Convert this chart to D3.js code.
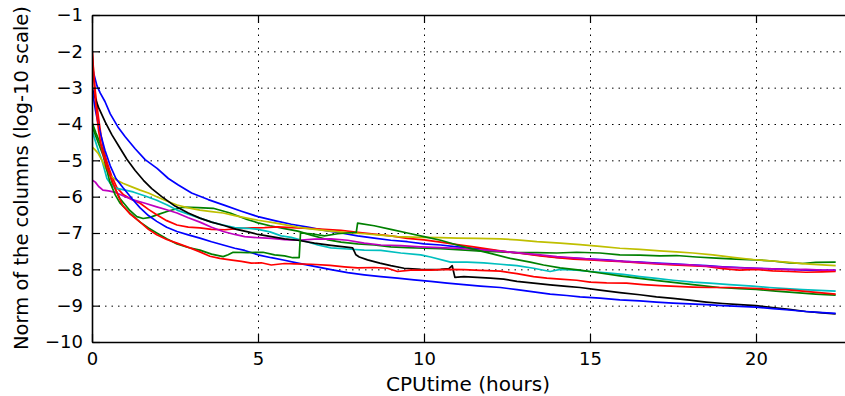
<!DOCTYPE html>
<html><head><meta charset="utf-8">
<script src="https://cdn.jsdelivr.net/npm/d3@7/dist/d3.min.js"></script>
<style>body{margin:0;background:#fff}svg{display:block}text{font-family:"DejaVu Sans",sans-serif}</style>
</head><body><svg id="c" width="845" height="396"></svg>
<script>
const xTicks = [0, 5, 10, 15, 20];
const yTicks = [-1, -2, -3, -4, -5, -6, -7, -8, -9, -10];
const xLabel = "CPUtime (hours)";
const yLabel = "Norm of the columns (log-10 scale)";

const blueUpper = [[0,-2.4],[0.05,-2.6],[0.15,-2.95],[0.25,-3.15],[0.39,-3.38],[0.55,-3.72],[0.78,-4.08],[1.0,-4.35],[1.3,-4.68],[1.6,-4.98],[1.96,-5.22],[2.3,-5.5],[2.6,-5.68],[3.0,-5.9],[3.5,-6.08],[4.0,-6.24],[4.5,-6.4],[5.0,-6.55],[5.5,-6.66],[6.0,-6.76],[6.5,-6.84],[7.0,-6.93],[7.5,-7.0],[8.0,-7.08],[8.5,-7.14],[9.0,-7.2],[9.5,-7.24],[10,-7.3],[10.5,-7.33],[11,-7.38],[11.5,-7.42],[12,-7.47],[12.5,-7.52],[13,-7.56],[13.5,-7.62],[14,-7.67],[14.5,-7.69],[15,-7.72],[15.5,-7.74],[16,-7.78],[16.5,-7.8],[17,-7.83],[17.5,-7.85],[18,-7.88],[18.5,-7.9],[19,-7.93],[19.5,-7.95],[20,-7.97],[20.5,-7.99],[21,-8.0],[21.5,-8.02],[22,-8.03],[22.4,-8.03]];
const greenA = [[0,-3.95],[0.12,-4.25],[0.33,-4.72],[0.48,-5.18],[0.6,-5.6],[0.84,-6.05],[1.14,-6.38],[1.35,-6.55],[1.54,-6.6],[1.75,-6.57],[1.95,-6.5],[2.35,-6.38],[2.75,-6.29],[3.2,-6.3],[3.65,-6.32],[4.16,-6.45],[4.67,-6.63],[5.0,-6.72],[5.36,-6.8],[5.8,-6.88],[6.2,-6.95],[6.6,-7.06],[7.08,-7.18],[7.5,-7.25],[8,-7.3],[8.5,-7.33],[9,-7.38],[9.5,-7.4],[10,-7.42],[10.5,-7.43],[11,-7.46],[11.6,-7.49],[12.3,-7.52],[12.8,-7.54],[13.4,-7.54],[14,-7.55],[14.6,-7.53],[15.3,-7.55],[15.9,-7.6],[16.5,-7.61],[17.1,-7.63],[17.6,-7.62],[18.2,-7.66],[18.8,-7.69],[19.4,-7.72],[20,-7.74],[20.5,-7.77],[21,-7.82],[21.4,-7.84],[21.8,-7.81],[22.4,-7.8]];
const redUpper = [[0,-1.9],[0.03,-2.3],[0.06,-2.7],[0.1,-3.1],[0.15,-3.5],[0.2,-3.85],[0.27,-4.3],[0.35,-4.7],[0.45,-5.05],[0.6,-5.45],[0.75,-5.75],[0.95,-5.95],[1.2,-6.08],[1.45,-6.18],[1.7,-6.35],[1.95,-6.5],[2.25,-6.66],[2.56,-6.78],[2.9,-6.84],[3.25,-6.86],[3.6,-6.9],[4.0,-6.91],[4.4,-6.88],[4.8,-6.86],[5.2,-6.85],[5.6,-6.83],[6.0,-6.85],[6.5,-6.87],[7.0,-6.9],[7.5,-6.93],[8.0,-6.98],[8.5,-7.03],[9.0,-7.08],[9.5,-7.15],[10,-7.19],[10.5,-7.25],[11,-7.32],[11.5,-7.38],[12,-7.45],[12.5,-7.52],[13,-7.57],[13.5,-7.63],[14,-7.68],[14.5,-7.72],[15,-7.74],[15.5,-7.77],[16,-7.79],[16.5,-7.82],[17,-7.85],[17.5,-7.88],[18,-7.9],[18.5,-7.92],[19,-7.98],[19.5,-8.02],[20,-8.0],[20.5,-8.04],[21,-8.06],[21.5,-8.08],[22,-8.07],[22.4,-8.06]];
const cyan = [[0,-4.17],[0.09,-4.44],[0.2,-4.75],[0.3,-5.0],[0.45,-5.5],[0.6,-5.7],[0.75,-5.77],[1.0,-5.82],[1.24,-5.87],[1.6,-5.98],[1.95,-6.1],[2.25,-6.22],[2.56,-6.37],[2.9,-6.48],[3.25,-6.59],[3.6,-6.7],[3.95,-6.78],[4.3,-6.85],[4.67,-6.87],[5.0,-6.9],[5.36,-6.97],[5.7,-7.08],[6.0,-7.12],[6.4,-7.22],[6.8,-7.33],[7.2,-7.41],[7.7,-7.44],[8.2,-7.47],[8.7,-7.48],[9.3,-7.55],[9.9,-7.6],[10.2,-7.66],[10.8,-7.8],[11.3,-7.8],[11.8,-7.82],[12.3,-7.86],[12.8,-7.9],[13.3,-7.97],[13.8,-8.06],[14.1,-8.0],[14.6,-8.02],[15,-8.06],[15.5,-8.1],[16,-8.14],[16.5,-8.2],[17,-8.25],[17.5,-8.3],[18.1,-8.35],[18.6,-8.38],[19.2,-8.42],[19.9,-8.46],[20.4,-8.5],[20.9,-8.53],[21.4,-8.56],[21.9,-8.58],[22.4,-8.6]];
const magenta = [[0,-5.54],[0.1,-5.6],[0.2,-5.72],[0.33,-5.82],[0.5,-5.84],[0.7,-5.88],[0.95,-5.98],[1.24,-6.09],[1.6,-6.18],[1.95,-6.28],[2.25,-6.36],[2.56,-6.45],[2.9,-6.58],[3.25,-6.7],[3.6,-6.84],[3.95,-6.96],[4.3,-7.04],[4.6,-7.1],[5.0,-7.13],[5.4,-7.15],[5.8,-7.18],[6.2,-7.2],[6.7,-7.17],[7.2,-7.16],[7.7,-7.2],[8.2,-7.28],[8.7,-7.33],[9.3,-7.35],[9.9,-7.38],[10.5,-7.4],[11,-7.42],[11.5,-7.45],[12.3,-7.5],[13,-7.56],[13.5,-7.6],[14,-7.65],[14.7,-7.7],[15.3,-7.74],[16,-7.78],[16.5,-7.81],[17,-7.84],[17.5,-7.86],[18,-7.88],[18.5,-7.91],[19,-7.94],[19.5,-7.96],[20,-7.97],[20.5,-7.99],[21,-8.01],[21.5,-8.0],[22,-8.02],[22.4,-8.02]];
const yellow = [[0,-4.63],[0.08,-4.7],[0.18,-4.8],[0.3,-5.0],[0.39,-5.18],[0.54,-5.42],[0.75,-5.55],[0.93,-5.63],[1.2,-5.73],[1.45,-5.82],[1.7,-5.9],[1.95,-6.0],[2.25,-6.12],[2.56,-6.23],[2.9,-6.31],[3.25,-6.37],[3.6,-6.41],[3.95,-6.45],[4.3,-6.52],[4.67,-6.59],[5.0,-6.65],[5.5,-6.72],[6.2,-6.84],[6.7,-6.9],[7.2,-6.95],[7.7,-6.99],[8.2,-7.02],[8.7,-7.06],[9.2,-7.1],[9.9,-7.12],[10.5,-7.13],[11,-7.14],[11.6,-7.15],[12.3,-7.16],[12.8,-7.19],[13.4,-7.24],[14.1,-7.28],[14.7,-7.32],[15.3,-7.37],[15.9,-7.42],[16.5,-7.45],[17.1,-7.49],[17.6,-7.52],[18.1,-7.55],[18.7,-7.6],[19.3,-7.67],[19.9,-7.73],[20.5,-7.77],[21,-7.81],[21.5,-7.85],[22,-7.88],[22.4,-7.9]];
const black = [[0,-3.0],[0.1,-3.3],[0.2,-3.55],[0.4,-3.95],[0.6,-4.3],[0.8,-4.6],[1.05,-4.97],[1.3,-5.28],[1.55,-5.55],[1.8,-5.78],[2.1,-6.0],[2.5,-6.26],[2.9,-6.45],[3.25,-6.59],[3.6,-6.7],[4.0,-6.8],[4.35,-6.9],[4.7,-6.97],[5.0,-7.04],[5.4,-7.1],[5.8,-7.16],[6.2,-7.2],[6.7,-7.28],[7.2,-7.34],[7.6,-7.38],[7.85,-7.41],[7.95,-7.6],[8.05,-7.66],[8.3,-7.74],[8.67,-7.83],[9.0,-7.9],[9.4,-7.97],[9.9,-8.0],[10.2,-8.01],[10.5,-8.0],[10.75,-7.98],[10.85,-7.9],[10.93,-8.22],[11.2,-8.2],[11.6,-8.22],[12,-8.24],[12.4,-8.27],[12.8,-8.33],[13.3,-8.38],[13.8,-8.43],[14.3,-8.47],[14.7,-8.5],[15.3,-8.57],[15.9,-8.64],[16.5,-8.7],[17,-8.76],[17.5,-8.8],[18,-8.85],[18.5,-8.9],[19,-8.94],[19.5,-8.97],[20,-9.0],[20.5,-9.05],[21,-9.1],[21.5,-9.16],[22,-9.2],[22.4,-9.23]];
const blueLower = [[0,-2.9],[0.03,-3.2],[0.1,-3.6],[0.18,-3.97],[0.28,-4.35],[0.39,-4.72],[0.55,-5.15],[0.72,-5.5],[0.93,-5.75],[1.2,-6.05],[1.45,-6.31],[1.7,-6.52],[1.95,-6.68],[2.25,-6.84],[2.56,-6.96],[2.9,-7.05],[3.25,-7.14],[3.6,-7.24],[3.95,-7.33],[4.3,-7.42],[4.6,-7.48],[5.0,-7.6],[5.4,-7.68],[5.8,-7.75],[6.2,-7.83],[6.7,-7.92],[7.2,-8.01],[7.7,-8.09],[8.2,-8.15],[8.7,-8.2],[9.2,-8.24],[9.7,-8.29],[10.2,-8.33],[10.7,-8.38],[11.2,-8.42],[11.7,-8.46],[12.3,-8.5],[12.8,-8.56],[13.3,-8.62],[13.8,-8.68],[14.3,-8.72],[14.7,-8.76],[15.3,-8.79],[15.9,-8.84],[16.5,-8.87],[17,-8.9],[17.5,-8.93],[18,-8.95],[18.5,-8.97],[19,-9.0],[19.5,-9.02],[20,-9.04],[20.5,-9.08],[21,-9.12],[21.5,-9.16],[22,-9.19],[22.4,-9.21]];
const greenB = [[0,-4.05],[0.12,-4.35],[0.33,-4.85],[0.54,-5.6],[0.7,-5.95],[0.84,-6.17],[1.14,-6.45],[1.45,-6.7],[1.7,-6.86],[1.95,-7.0],[2.25,-7.16],[2.56,-7.3],[2.9,-7.4],[3.25,-7.47],[3.6,-7.58],[3.95,-7.65],[4.1,-7.6],[4.25,-7.53],[4.7,-7.54],[5.15,-7.53],[5.5,-7.6],[5.8,-7.63],[6.05,-7.68],[6.24,-7.68],[6.28,-7.0],[6.6,-7.02],[7.0,-7.08],[7.4,-7.02],[7.96,-6.98],[8.0,-6.73],[8.5,-6.8],[9.0,-6.9],[9.5,-7.0],[10,-7.1],[10.5,-7.2],[11,-7.33],[11.5,-7.45],[12,-7.56],[12.6,-7.7],[13.2,-7.8],[13.6,-7.88],[14.1,-7.96],[14.7,-8.02],[15.3,-8.1],[15.9,-8.18],[16.5,-8.25],[17.1,-8.32],[17.7,-8.38],[18.3,-8.44],[18.9,-8.5],[19.5,-8.53],[20,-8.55],[20.6,-8.6],[21.2,-8.64],[21.8,-8.68],[22.4,-8.71]];
const redLower = [[0,-1.9],[0.03,-2.35],[0.06,-2.8],[0.1,-3.3],[0.15,-3.8],[0.2,-4.2],[0.3,-4.72],[0.45,-5.2],[0.63,-5.62],[0.8,-6.0],[0.93,-6.25],[1.15,-6.48],[1.45,-6.7],[1.7,-6.9],[1.95,-7.05],[2.25,-7.18],[2.56,-7.28],[2.95,-7.41],[3.25,-7.52],[3.55,-7.64],[3.85,-7.7],[4.16,-7.74],[4.5,-7.78],[4.8,-7.83],[5.1,-7.82],[5.4,-7.88],[5.8,-7.84],[6.1,-7.85],[6.6,-7.86],[7.17,-7.89],[7.6,-7.93],[8.0,-7.96],[8.5,-7.95],[8.9,-7.97],[9.2,-8.06],[9.6,-8.02],[10.2,-8.02],[10.7,-8.0],[11.2,-8.01],[11.7,-8.03],[12.3,-8.05],[12.8,-8.12],[13.3,-8.2],[13.7,-8.24],[14.1,-8.27],[14.6,-8.3],[15,-8.35],[15.5,-8.37],[16.1,-8.38],[16.6,-8.42],[17.1,-8.45],[17.6,-8.47],[18.1,-8.49],[18.6,-8.5],[19.2,-8.5],[19.9,-8.52],[20.4,-8.55],[20.9,-8.56],[21.4,-8.6],[21.9,-8.64],[22.4,-8.68]];

const seriesList = [
  {data: blueUpper, color: "#0000ff"},
  {data: greenA, color: "#008000"},
  {data: redUpper, color: "#ff0000"},
  {data: cyan, color: "#00bfbf"},
  {data: magenta, color: "#bf00bf"},
  {data: yellow, color: "#bfbf00"},
  {data: black, color: "#000000"},
  {data: blueLower, color: "#0000ff"},
  {data: greenB, color: "#008000"},
  {data: redLower, color: "#ff0000"}
];

const L = 92, T = 15, B = 342, R = 847;
const x = d3.scaleLinear().domain([0, (R - L) / 33.2]).range([L, R]);
const y = d3.scaleLinear().domain([-10, -1]).range([B, T]);
const svg = d3.select("#c");
svg.append("rect").attr("width", 845).attr("height", 396).attr("fill", "#fff");

svg.append("defs").append("clipPath").attr("id", "clip")
  .append("rect").attr("x", L).attr("y", T).attr("width", R - L).attr("height", B - T);

// grid
const grid = svg.append("g").attr("stroke", "#000").attr("stroke-width", 1).attr("stroke-dasharray", "1.5,5");
grid.selectAll(".gx").data(xTicks.slice(1)).join("line")
  .attr("x1", d => x(d) + 0.5).attr("x2", d => x(d) + 0.5).attr("y1", T).attr("y2", B);
grid.selectAll(".gy").data(yTicks.slice(1, -1)).join("line")
  .attr("y1", d => y(d) + 0.5).attr("y2", d => y(d) + 0.5).attr("x1", L).attr("x2", R);

// lines
const line = d3.line().x(d => x(d[0])).y(d => y(d[1]));
const lg = svg.append("g").attr("clip-path", "url(#clip)");
seriesList.forEach(s => {
  lg.append("path").attr("d", line(s.data)).attr("fill", "none")
    .attr("stroke", s.color).attr("stroke-width", 1.7).attr("stroke-linejoin", "round");
});

// axes
const fs = "18px";
const ax = svg.append("g").attr("transform", `translate(0,${B})`)
  .call(d3.axisBottom(x).tickValues(xTicks).tickSizeInner(-8).tickSizeOuter(0).tickPadding(10).tickFormat(d3.format("d")));
const ay = svg.append("g").attr("transform", `translate(${L},0)`)
  .call(d3.axisLeft(y).tickValues(yTicks).tickSizeInner(-8).tickSizeOuter(0).tickPadding(9));
const at = svg.append("g").attr("transform", `translate(0,${T})`)
  .call(d3.axisTop(x).tickValues(xTicks).tickSizeInner(-8).tickSizeOuter(0).tickFormat(""));
[ax, ay, at].forEach(g => {
  g.selectAll("text").attr("font-size", fs).attr("fill", "#000").attr("font-family", "DejaVu Sans");
  g.select(".domain").attr("stroke", "#000").attr("stroke-width", 1.6);
  g.selectAll(".tick line").attr("stroke", "#000").attr("stroke-width", 1.2);
});

svg.append("text").attr("x", 468).attr("y", 391).attr("text-anchor", "middle")
  .attr("font-size", "20px").text(xLabel);
svg.append("text").attr("transform", `translate(28,178) rotate(-90)`).attr("text-anchor", "middle")
  .attr("font-size", "19.5px").text(yLabel);
</script></body></html>
